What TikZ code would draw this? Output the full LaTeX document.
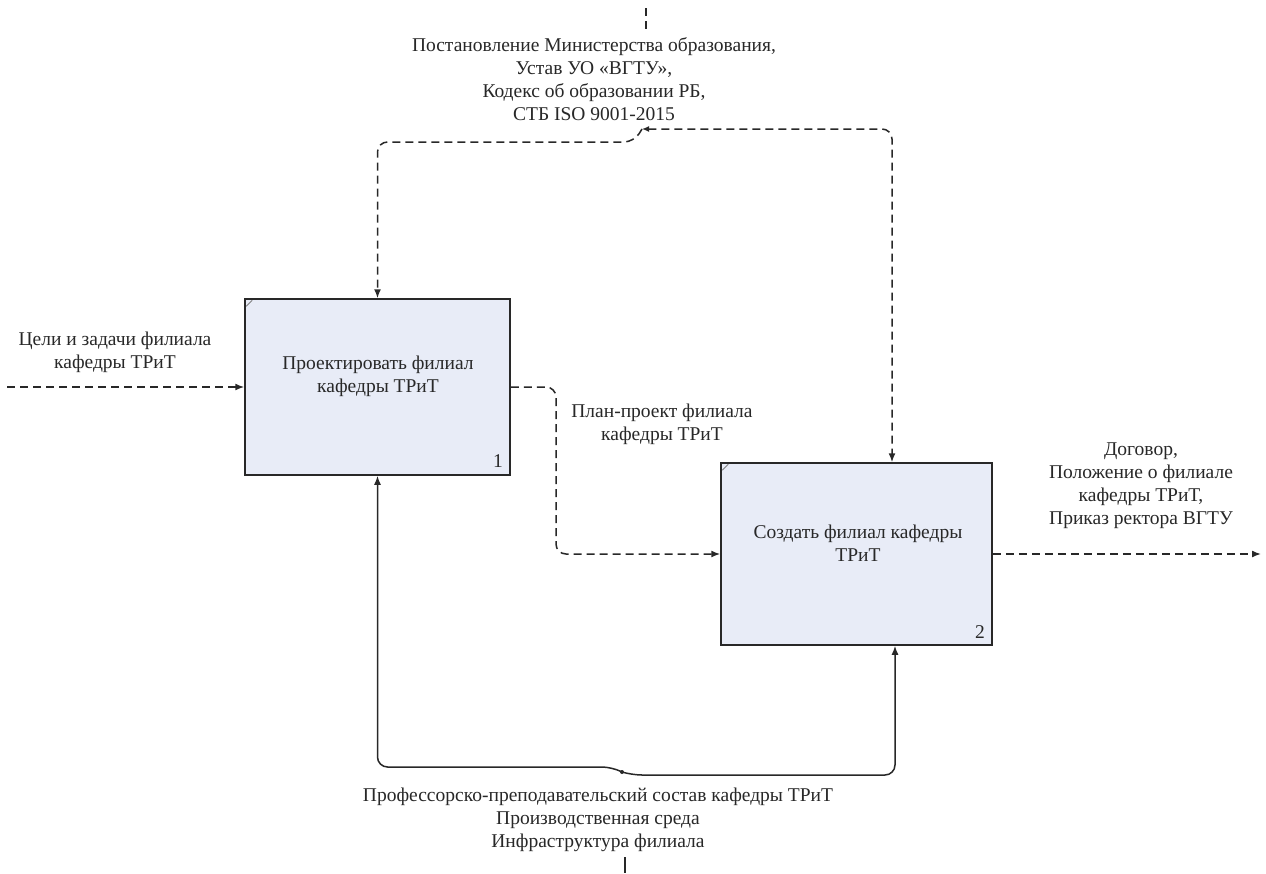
\documentclass[tikz,border=0pt]{standalone}
\usepackage{fontspec}
\setmainfont{Liberation Serif}
\usetikzlibrary{arrows.meta,calc}
\definecolor{boxfill}{RGB}{232,236,247}
\definecolor{linec}{RGB}{40,40,40}
\definecolor{txtc}{RGB}{40,40,40}
\tikzset{
  funcbox/.style={draw=linec,line width=1.5pt,fill=boxfill,inner sep=0pt},
  lbl/.style={font=\fontsize{19.5}{23}\selectfont,align=center,text=txtc,inner sep=0pt},
  numlbl/.style={font=\fontsize{19.5}{23}\selectfont,text=txtc,inner sep=0pt},
  tip/.style={-{Latex[length=9pt,width=7pt]}},
  dashline/.style={draw=linec,line width=1.5pt,dash pattern=on 8pt off 5pt,rounded corners=10pt},
  solidline/.style={draw=linec,line width=1.5pt,rounded corners=10pt},
  cornermark/.style={draw=gray,line width=0.8pt}
}
\begin{document}
\begin{tikzpicture}[x=1pt,y=-1pt]
\useasboundingbox (0,0) rectangle (1266,873);
\fill[white] (0,0) rectangle (1266,873);

% boxes
\node[funcbox,minimum width=265pt,minimum height=176pt] (b1) at (377.5,387) {};
\node[funcbox,minimum width=271pt,minimum height=182pt] (b2) at (856.5,554) {};
\draw[cornermark] ($(b1.north west)+(2,8)$) -- ($(b1.north west)+(8,2)$);
\draw[cornermark] ($(b2.north west)+(2,8)$) -- ($(b2.north west)+(8,2)$);

% box texts
\node[lbl] (t1) at (378,376.5) {Проектировать филиал\\кафедры ТРиТ};
\node[lbl] (t2) at (858,543.5) {Создать филиал кафедры\\ТРиТ};
\node[numlbl] (n1) at (498,461) {1};
\node[numlbl] (n2) at (980,632) {2};

% labels
\node[lbl] (ctl) at (594,79.5) {Постановление Министерства образования,\\Устав УО «ВГТУ»,\\Кодекс об образовании РБ,\\СТБ ISO 9001-2015};
\node[lbl] (inl) at (115,352) {Цели и задачи филиала\\кафедры ТРиТ};
\node[lbl] (pl) at (662,424) {План-проект филиала\\кафедры ТРиТ};
\node[lbl] (outl) at (1141,486) {Договор,\\Положение о филиале\\кафедры ТРиТ,\\Приказ ректора ВГТУ};
\node[lbl] (mel) at (598,820) {Профессорско-преподавательский состав кафедры ТРиТ\\Производственная среда\\Инфраструктура филиала};

% coordinates
\coordinate (inS) at (7,387);
\coordinate (oBend) at (556,0);
\coordinate (outE) at (1261,554);
\coordinate (cTop) at (646,8);
\coordinate (cTopE) at (646,32);
\coordinate (cJ) at (642,129);
\coordinate (cL) at (634,142);
\coordinate (c2x) at (892,0);
\coordinate (mJ) at (622,772);
\coordinate (mL) at (612,767);
\coordinate (mR) at (632,775);
\coordinate (m2x) at (895,0);
\coordinate (mB) at (625,857);
\coordinate (mBE) at (625,873);

% input
\draw[dashline,tip] (inS) -- (b1.west);
% output 1 -> input 2
\draw[dashline,tip] (b1.east) -- (b1.east -| oBend) -- (oBend |- b2.west) -- (b2.west);
% output 2
\draw[dashline,tip] (b2.east) -- (outE);
% controls
\draw[dashline] (cTop) -- (cTopE);
\draw[dashline,{Latex[length=7pt,width=6pt]}-{Latex[length=9pt,width=7pt]}] (cJ) -- (cJ -| c2x) -- (c2x |- b2.north);
\draw[dashline,tip] (cJ) -- (cL) -- (cL -| b1.north) -- (b1.north);
% mechanisms
\draw[solidline] (mB) -- (mBE);
\fill[linec] (mJ) circle (2pt);
\draw[solidline,tip] (mJ) -- (mL) -- (mL -| b1.south) -- (b1.south);
\draw[solidline,tip] (mJ) -- (mR) -- (mR -| m2x) -- (m2x |- b2.south);
\end{tikzpicture}
\end{document}
